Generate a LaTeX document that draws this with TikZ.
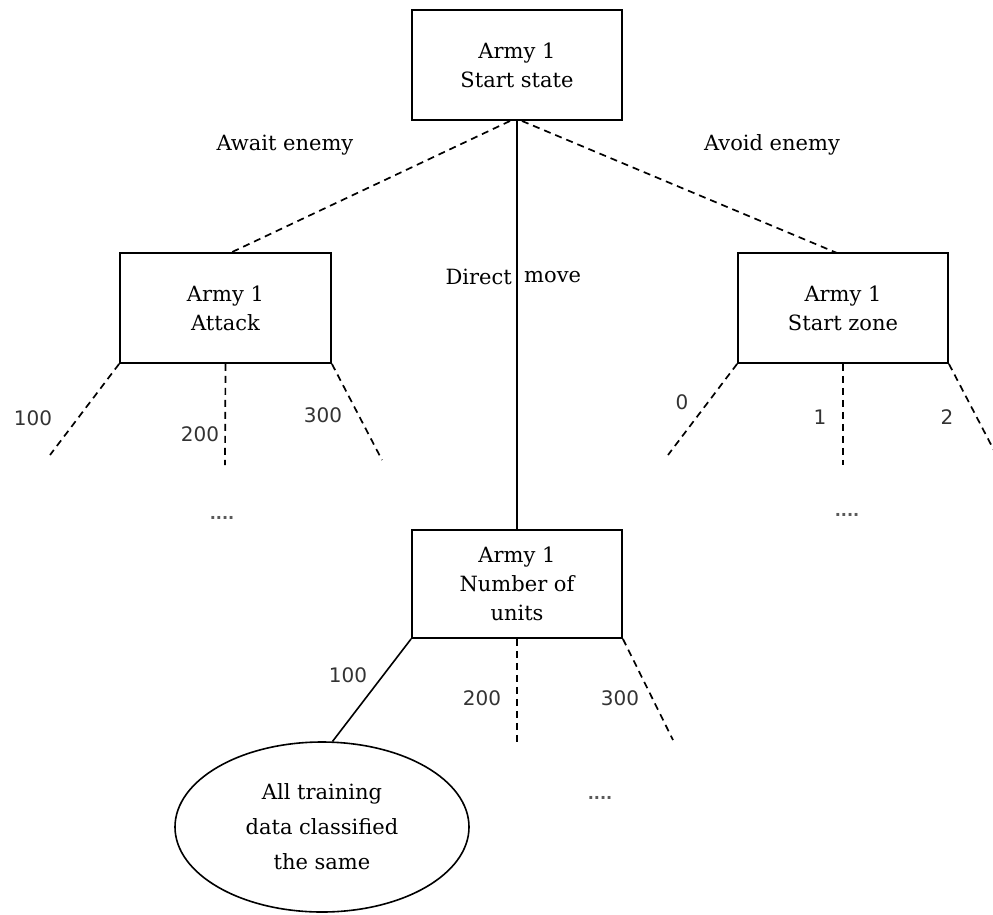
\documentclass[tikz,border=0pt]{standalone}
\usepackage{fontspec}
\setmainfont{DejaVu Serif}
\newfontfamily\numfont{DejaVu Sans}
\usetikzlibrary{shapes.geometric}
\begin{document}
\begin{tikzpicture}[x=1pt,y=-1pt,
  box/.style={draw,line width=1.8pt,minimum width=210pt,align=center,inner sep=0pt},
  txt/.style={font=\fontsize{21}{29}\selectfont,align=center,inner sep=0pt},
  num/.style={font=\numfont\fontsize{20}{24}\selectfont,inner sep=0pt,text=black!80},
  dots/.style={font=\numfont\bfseries\fontsize{16}{18}\selectfont,inner sep=0pt,text=black!65},
  dline/.style={line width=1.7pt,dash pattern=on 7pt off 5pt},
  sline/.style={line width=1.6pt}]
\useasboundingbox (0,0) rectangle (993,914);
% boxes
\node[box,txt,minimum height=110pt] (start) at (517,65) {Army 1\\Start state};
\node[box,txt,minimum height=110pt,minimum width=211pt] (attack) at (225.5,308) {Army 1\\Attack};
\node[box,txt,minimum height=110pt] (zone) at (843,308) {Army 1\\Start zone};
\node[box,txt,minimum height=108pt] (units) at (517,584) {Army 1\\Number of\\units};
\node[draw,line width=1.6pt,ellipse,minimum width=294pt,minimum height=170pt,txt,font=\fontsize{21}{35}\selectfont] (leaf) at (322,827) {All training\\data classified\\the same};
% top connectors
\coordinate (sa) at (510,121);
\coordinate (sb) at (522,121);
\coordinate (at) at (230,253);
\coordinate (zt) at (837,253);
\draw[dline] (sa) -- (at);
\draw[dline] (sb) -- (zt);
\draw[sline] (start.south) -- (units.north);
\node[txt] (await) at (285,145) {Await enemy};
\node[txt] (avoid) at (772,145) {Avoid enemy};
\node[txt,anchor=east] (direct) at (512,277) {Direct};
\node[txt,anchor=west] (move) at (524,277) {move};
% attack branches
\coordinate (a1) at (50,455);
\coordinate (a2) at (225,465);
\coordinate (a3) at (382,460);
\draw[dline] (attack.south west) -- (a1);
\draw[dline] (attack.south) -- (a2);
\draw[dline] (attack.south east) -- (a3);
\node[num] (n100a) at (33,418) {100};
\node[num] (n200a) at (200,434) {200};
\node[num] (n300a) at (323,415) {300};
\node[dots] (da) at (222,518) {....};
% start zone branches
\coordinate (z1) at (668,455);
\coordinate (z2) at (843,465);
\coordinate (z3) at (998,458);
\draw[dline] (zone.south west) -- (z1);
\draw[dline] (zone.south) -- (z2);
\draw[dline] (zone.south east) -- (z3);
\node[num] (n0) at (682,402) {0};
\node[num] (n1) at (820,417) {1};
\node[num] (n2) at (947,417) {2};
\node[dots] (dz) at (847,515) {....};
% units branches
\coordinate (u2) at (517,743);
\coordinate (u3) at (673,740);
\draw[sline] (units.south west) -- (leaf.83);
\draw[dline] (units.south) -- (u2);
\draw[dline] (units.south east) -- (u3);
\node[num] (n100u) at (348,675) {100};
\node[num] (n200u) at (482,698) {200};
\node[num] (n300u) at (620,698) {300};
\node[dots] (du) at (600,798) {....};
\end{tikzpicture}
\end{document}
